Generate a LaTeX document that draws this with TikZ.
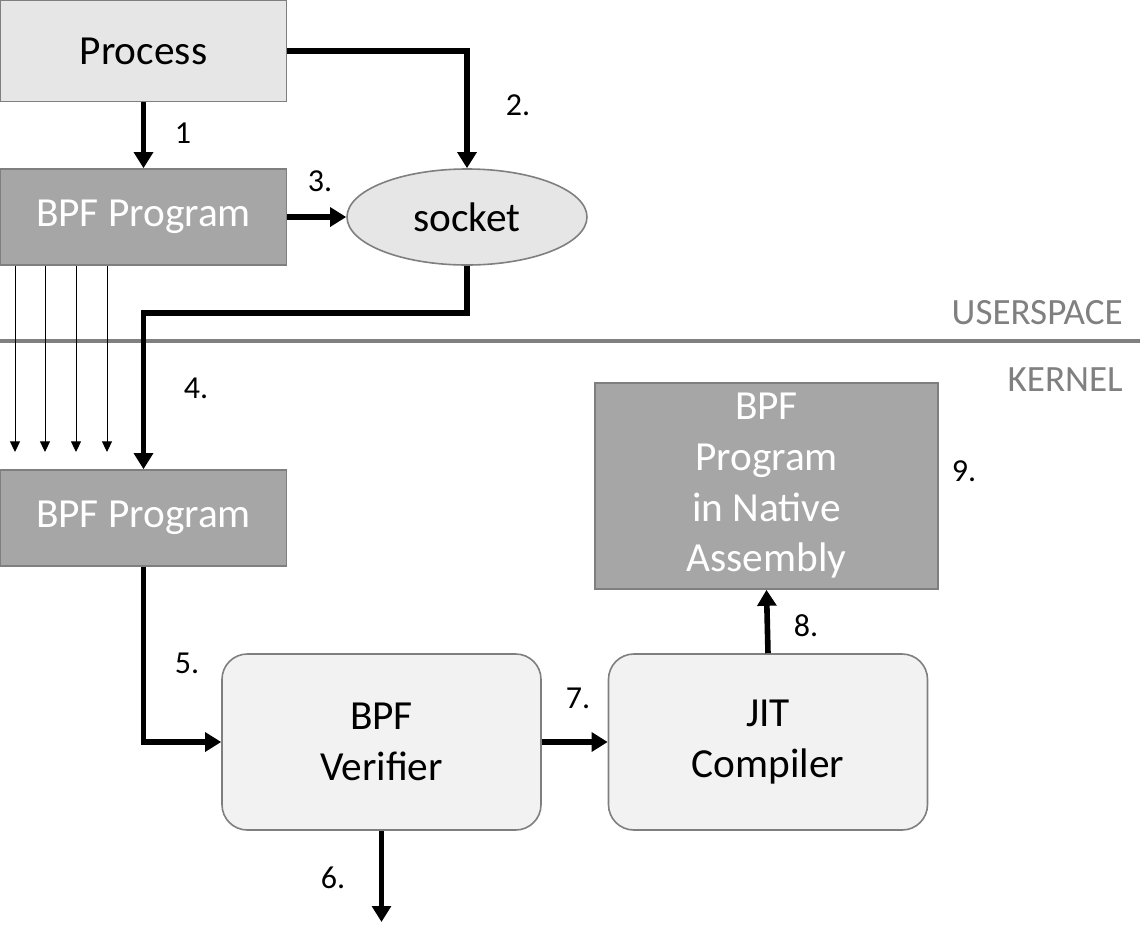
\documentclass[tikz,border=0pt]{standalone}
\usepackage{fontspec}
\setmainfont{Carlito}
\usetikzlibrary{arrows.meta,shapes.geometric}
\newcommand{\pxunit}{0.75pt}
\definecolor{processbg}{HTML}{E6E6E6}
\definecolor{programbg}{HTML}{A6A6A6}
\definecolor{stagebg}{HTML}{F2F2F2}
\definecolor{boxborder}{HTML}{7F7F7F}
\definecolor{layercolor}{HTML}{808080}

\tikzset{
  boxtext/.style={font=\fontsize{31}{38}\selectfont, align=center, inner sep=0pt},
  lightbox/.style={boxtext, draw=boxborder, fill=processbg, line width=1.2pt},
  progbox/.style={boxtext, draw=boxborder, fill=programbg, text=white, line width=1.2pt},
  stagebox/.style={boxtext, draw=boxborder, fill=stagebg, line width=1.2pt, rounded corners=19pt,
    minimum width=319*\pxunit, minimum height=176*\pxunit},
  flow/.style={line width=4.2pt, -{Triangle[width=14pt, length=12pt]}},
  thinflow/.style={line width=0.75pt, -{Triangle[width=7.5pt, length=8pt]}},
  steplabel/.style={font=\fontsize{24}{28}\selectfont, inner sep=0pt},
  layerlabel/.style={font=\fontsize{27.8}{32}\selectfont, text=layercolor, inner sep=0pt, anchor=east}
}

\begin{document}
\begin{tikzpicture}[x=\pxunit, y=-\pxunit]
  \useasboundingbox (0,0) rectangle (1147,943);

  % Userspace side
  \node[lightbox, minimum width=286*\pxunit, minimum height=101*\pxunit] (process) at (143.5,51) {Process};
  \node[progbox, minimum width=286*\pxunit, minimum height=96*\pxunit] (userprog) at (143.5,217) {BPF Program};
  \node[lightbox, ellipse, minimum width=240*\pxunit, minimum height=96*\pxunit] (socket) at (467,217) {socket};

  % Boundary between the two layers
  \draw[layercolor, line width=3.5pt] (0,341) -- (1140,341);
  \node[layerlabel] (userspace) at (1123,313) {USERSPACE};
  \node[layerlabel] (kernel) at (1123,380) {KERNEL};

  % Kernel side
  \node[progbox, minimum width=286*\pxunit, minimum height=96*\pxunit] (kernelprog) at (143.5,518) {BPF Program};
  \node[stagebox] (verifier) at (381.5,742) {BPF\\Verifier};
  \node[stagebox] (jit) at (768,742) {JIT\\Compiler};
  \node[progbox, minimum width=343*\pxunit, minimum height=206*\pxunit] (native) at (766.5,486)
    {BPF\\Program\\in Native\\Assembly};

  % Turning points and free ends
  \coordinate (turn4) at (143.5,313);
  \coordinate (out6) at (381.5,922);

  % Connectors
  \draw[flow] (process.south) -- (userprog.north);
  \draw[flow] (process.east) -| (socket.north);
  \draw[flow] (userprog.east) -- (socket.west);
  \draw[flow] (socket.south) |- (turn4) -- (kernelprog.north);
  \draw[flow] (kernelprog.south) |- (verifier.west);
  \draw[flow] (verifier.south) -- (out6);
  \draw[flow] (verifier.east) -- (jit.west);
  \draw[flow] (jit.north) -- (native.south);

  % Copies of the program passed down
  \foreach \x [count=\i] in {15,45,76,107} {
    \coordinate (tap\i) at (\x,452);
    \draw[thinflow] (userprog.south -| tap\i) -- (tap\i);
  }

  % Step numbers
  \node[steplabel] (step1) at (183,133) {1};
  \node[steplabel] (step2) at (518,105) {2.};
  \node[steplabel] (step3) at (320,181) {3.};
  \node[steplabel] (step4) at (196,388) {4.};
  \node[steplabel] (step5) at (187,663) {5.};
  \node[steplabel] (step6) at (333,878) {6.};
  \node[steplabel] (step7) at (578,698) {7.};
  \node[steplabel] (step8) at (806,626) {8.};
  \node[steplabel] (step9) at (964,471) {9.};
\end{tikzpicture}
\end{document}
